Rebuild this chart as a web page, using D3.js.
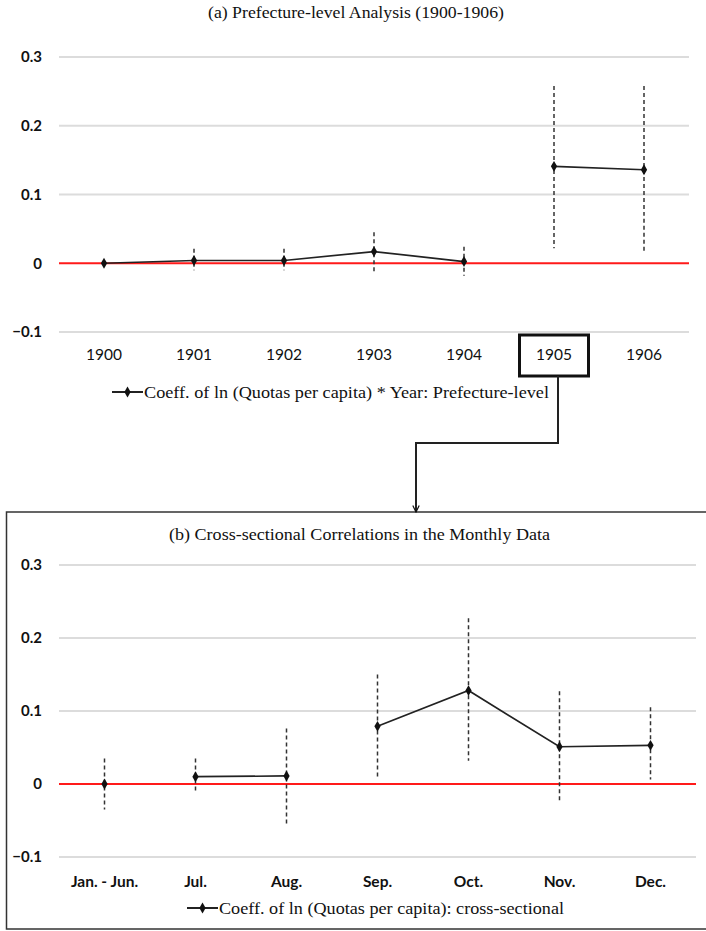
<!DOCTYPE html>
<html>
<head>
<meta charset="utf-8">
<script src="https://cdn.jsdelivr.net/npm/d3@7"></script>
<style>
  html, body { margin: 0; padding: 0; background: #fff; }
  svg { display: block; }
  .title, .legend { font-family: "Liberation Serif", serif; fill: #111; }
  .tick-y, .tick-x { font-family: Lato, "Liberation Sans", sans-serif; fill: #111; }
</style>
</head>
<body>
<svg width="706" height="931"></svg>
<script>
// panel (a): prefecture-level, yearly
const years = ["1900", "1901", "1902", "1903", "1904", "1905", "1906"];
const prefCoef = [0, 0.004, 0.004, 0.017, 0.0025, 0.141, 0.136];
const prefLow  = [null, -0.010, -0.010, -0.012, -0.018, 0.022, 0.018];
const prefHigh = [null, 0.021, 0.021, 0.045, 0.024, 0.258, 0.258];
const prefGroup = [0, 0, 0, 0, 0, 1, 1];   // line breaks between groups

// panel (b): monthly cross-section, 1905
const months = ["Jan. - Jun.", "Jul.", "Aug.", "Sep.", "Oct.", "Nov.", "Dec."];
const monthCoef = [0, 0.010, 0.011, 0.079, 0.128, 0.051, 0.053];
const monthLow  = [-0.035, -0.013, -0.054, 0.009, 0.032, -0.025, 0.006];
const monthHigh = [0.035, 0.035, 0.076, 0.150, 0.227, 0.127, 0.105];
const monthGroup = [0, 1, 1, 2, 2, 2, 2];

const yTicks = [-0.1, 0, 0.1, 0.2, 0.3];

const svg = d3.select("svg");

function drawPanel(opt) {
  const g = svg.append("g");
  const x = d3.scaleBand().domain(opt.cats).range([59, opt.right]);
  const y = d3.scaleLinear().domain([-0.1, 0.3]).range([opt.bottom, opt.top]);
  const cx = c => x(c) + x.bandwidth() / 2;

  // title, squeezed to the width it has in the source
  g.append("text").attr("class", "title")
    .attr("x", opt.titleX).attr("y", opt.titleY)
    .attr("font-size", 16)
    .attr("textLength", opt.titleW).attr("lengthAdjust", "spacingAndGlyphs")
    .text(opt.title);

  // gridlines
  g.selectAll(".grid").data(yTicks.filter(t => t !== 0)).enter().append("line")
    .attr("x1", x.range()[0]).attr("x2", x.range()[1])
    .attr("y1", d => y(d)).attr("y2", d => y(d))
    .attr("stroke", "#dcdcdc").attr("stroke-width", 2);

  g.selectAll(".tick-y").data(yTicks).enter().append("text")
    .attr("class", "tick-y")
    .attr("x", 42).attr("y", d => y(d)).attr("dy", "0.35em")
    .attr("text-anchor", "end").attr("font-size", 15).attr("font-weight", 700)
    .text(d => d === 0 ? "0" : d3.format(".1f")(d));

  // zero line
  g.append("line")
    .attr("x1", x.range()[0]).attr("x2", x.range()[1])
    .attr("y1", y(0)).attr("y2", y(0))
    .attr("stroke", "#ff1a1a").attr("stroke-width", 2);

  g.selectAll(".tick-x").data(opt.cats).enter().append("text")
    .attr("class", "tick-x")
    .attr("x", d => cx(d)).attr("y", opt.labelY).attr("dy", "0.35em")
    .attr("text-anchor", "middle").attr("font-size", 15.5)
    .attr("font-weight", opt.boldX ? 700 : 400)
    .text(d => d);

  const rows = opt.cats.map((c, i) => ({
    c, v: opt.coef[i], lo: opt.low[i], hi: opt.high[i], grp: opt.group[i]
  }));

  // error bars
  g.selectAll(".err").data(rows.filter(d => d.lo !== null)).enter().append("line")
    .attr("x1", d => cx(d.c)).attr("x2", d => cx(d.c))
    .attr("y1", d => y(d.hi)).attr("y2", d => y(d.lo))
    .attr("stroke", "#333").attr("stroke-width", 1.5)
    .attr("stroke-dasharray", "4,3");

  const line = d3.line().x(d => cx(d.c)).y(d => y(d.v));
  const groups = d3.groups(rows, d => d.grp).map(d => d[1]);
  g.selectAll(".ser").data(groups.filter(d => d.length > 1)).enter().append("path")
    .attr("d", line).attr("fill", "none")
    .attr("stroke", "#222").attr("stroke-width", 1.7);

  const diamond = d3.symbol().type(d3.symbolDiamond).size(34);
  g.selectAll(".pt").data(rows).enter().append("path")
    .attr("transform", d => "translate(" + cx(d.c) + "," + y(d.v) + ")")
    .attr("d", diamond).attr("fill", "#111");

  // legend
  const lg = g.append("g").attr("transform", "translate(" + opt.legendX + "," + opt.legendY + ")");
  lg.append("line").attr("x1", 0).attr("x2", 31).attr("stroke", "#222").attr("stroke-width", 2);
  lg.append("path").attr("transform", "translate(15.5,0)").attr("d", diamond).attr("fill", "#111");
  lg.append("text").attr("class", "legend")
    .attr("x", 32).attr("dy", "0.35em").attr("font-size", 17)
    .attr("textLength", opt.legendW).attr("lengthAdjust", "spacingAndGlyphs")
    .text(opt.legend);

  return {x, y, cx};
}

const a = drawPanel({
  cats: years, coef: prefCoef, low: prefLow, high: prefHigh, group: prefGroup,
  right: 689, top: 57, bottom: 332, titleX: 208, titleW: 296, titleY: 18, labelY: 355,
  legendX: 112, legendY: 392, legendW: 405,
  title: "(a) Prefecture-level Analysis (1900-1906)",
  legend: "Coeff. of ln (Quotas per capita) * Year: Prefecture-level"
});

// frame round panel (b)
svg.append("rect")
  .attr("x", 6.5).attr("y", 512).attr("width", 720).attr("height", 417)
  .attr("fill", "none").attr("stroke", "#333").attr("stroke-width", 1.5);

drawPanel({
  cats: months, coef: monthCoef, low: monthLow, high: monthHigh, group: monthGroup,
  right: 696, top: 565, bottom: 857, titleX: 169, titleW: 381, titleY: 540, labelY: 882, boldX: true,
  legendX: 187, legendY: 908, legendW: 345,
  title: "(b) Cross-sectional Correlations in the Monthly Data",
  legend: "Coeff. of ln (Quotas per capita): cross-sectional"
});

// highlight box on 1905 and the connector down to panel (b)
const bx = a.cx("1905");
svg.append("rect")
  .attr("x", bx - 34.5).attr("y", 335).attr("width", 69).attr("height", 41)
  .attr("fill", "none").attr("stroke", "#111").attr("stroke-width", 3);

svg.append("defs").append("marker")
  .attr("id", "arrow").attr("viewBox", "0 0 10 10")
  .attr("refX", 9).attr("refY", 5)
  .attr("markerWidth", 8).attr("markerHeight", 8)
  .attr("markerUnits", "userSpaceOnUse")
  .attr("orient", "auto")
  .append("path").attr("d", "M1,1 L9,5 L1,9").attr("fill", "none")
  .attr("stroke", "#111").attr("stroke-width", 1.5);

svg.append("path")
  .attr("d", "M" + (bx + 4) + ",376 V443 H416 V512")
  .attr("fill", "none").attr("stroke", "#222").attr("stroke-width", 2)
  .attr("marker-end", "url(#arrow)");
</script>
</body>
</html>
